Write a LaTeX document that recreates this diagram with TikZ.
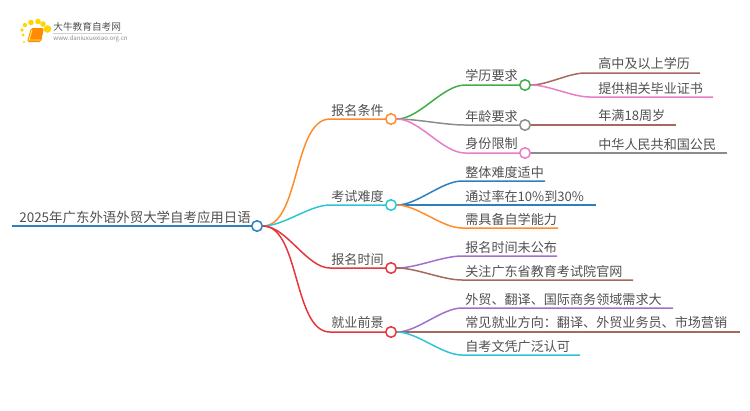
\documentclass[tikz,border=0pt]{standalone}
\usepackage{fontspec}
\usetikzlibrary{backgrounds}
\setmainfont{Noto Sans CJK SC}
\definecolor{txtgrey}{HTML}{505050}
\definecolor{rootblue}{HTML}{2F7FBD}
\definecolor{lorange}{HTML}{FF8C2A}
\definecolor{lcyan}{HTML}{2CC5D8}
\definecolor{lred}{HTML}{E4363C}
\definecolor{lgreen}{HTML}{3FAE49}
\definecolor{lgrey}{HTML}{8C8C8C}
\definecolor{lpink}{HTML}{EA7CC8}
\definecolor{lbrown}{HTML}{A5695E}
\definecolor{lpurple}{HTML}{A070D0}
\tikzset {
    label text/.style = {anchor = west, inner sep = 0pt, text = txtgrey, font = \fontsize{7.45pt}{9pt}\selectfont},
    root text/.style = {label text, font = \fontsize{7.65pt}{9pt}\selectfont},
    dot/.style = {circle, draw = #1, fill = white, line width = 0.85pt, minimum size = 6pt, inner sep = 0pt},
    branch/.style = {draw = #1, line width = 0.85pt},
    curve/.style = {out = 0, in = 180, looseness = 0.75}
}
\begin{document}
\begin{tikzpicture}[x = 0.02cm, y = -0.02cm]
    \useasboundingbox (0, 0) rectangle (750, 410);
    % logo
    \foreach \px/\py/\ps in {23/35/1.6, 22/30/1.8, 25/25/2.2, 31/22.5/2.8, 38/21.5/2.8, 43/24/2.8, 47.5/29/3.8, 24/42/1.2} {
        \fill [yellow!75!orange] (\px, \py) circle (\ps);
    }
    \fill [orange!90!yellow, rounded corners = 1pt] (31, 28) -- (44, 28) -- (41, 42) -- (27, 42) -- cycle;
    \draw [yellow!60!white, line width = 0.5pt] (32, 30) -- (29, 40) -- (40, 40);
    \node (logoname) [anchor = west, inner sep = 0pt, text = txtgrey, font = \fontsize{5.5pt}{6pt}\selectfont] at (53, 27) {大牛教育自考网};
    \node (logourl) [anchor = west, inner sep = 0pt, text = lgrey, font = \fontsize{3.5pt}{5pt}\selectfont] at (53, 38.5) {www.daniuxuexiao.org.cn};
    \draw [lgrey!40, line width = 0.3pt] (53, 33) -- (122, 33);
    % circles
    \node (root) [dot = rootblue] at (257, 226) {};
    \node (exam) [dot = lcyan] at (391, 205) {};
    \node (cond) [dot = lorange] at (391, 119) {};
    \node (time) [dot = lred] at (391, 268) {};
    \node (job) [dot = lred] at (391, 332) {};
    \node (edu) [dot = lgreen] at (525, 85) {};
    \node (age) [dot = lgrey] at (525, 125) {};
    \node (idc) [dot = lpink] at (525, 153) {};
    % free ends
    \coordinate (start) at (12, 226);
    \coordinate (condk) at (330, 119);
    \coordinate (examk) at (330, 205);
    \coordinate (timek) at (330, 268);
    \coordinate (jobk) at (330, 332);
    \coordinate (eduk) at (465, 85);
    \coordinate (agek) at (465, 125);
    \coordinate (idck) at (465, 153);
    \coordinate (edua) at (585, 73);
    \coordinate (eduae) at (700, 73);
    \coordinate (edub) at (590, 97);
    \coordinate (edube) at (713, 97);
    \coordinate (agee) at (676, 125);
    \coordinate (idce) at (727, 153);
    \coordinate (exa) at (462, 181);
    \coordinate (exae) at (545, 181);
    \coordinate (exbe) at (596, 205);
    \coordinate (exc) at (462, 228);
    \coordinate (exce) at (558, 228);
    \coordinate (tia) at (462, 256);
    \coordinate (tiae) at (557, 256);
    \coordinate (tib) at (462, 280);
    \coordinate (tibe) at (633, 280);
    \coordinate (joa) at (462, 308);
    \coordinate (joae) at (673, 308);
    \coordinate (jobe) at (740, 332);
    \coordinate (joc) at (462, 355);
    \coordinate (joce) at (580, 355);
    % lines
    \begin{scope}[on background layer]
        \draw [branch = rootblue] (start) -- (root);
        \draw [branch = lorange] (root) to [curve] (condk) -- (cond);
        \draw [branch = lcyan] (root) to [curve] (examk) -- (exam);
        \draw [branch = lred] (root) to [curve] (timek) -- (time);
        \draw [branch = lred] (root) to [curve] (jobk) -- (job);
        \draw [branch = lgreen] (cond) to [curve] (eduk) -- (edu);
        \draw [branch = lgrey] (cond) to [curve] (agek) -- (age);
        \draw [branch = lpink] (cond) to [curve] (idck) -- (idc);
        \draw [branch = lbrown] (edu) to [curve] (edua) -- (eduae);
        \draw [branch = lpink] (edu) to [curve] (edub) -- (edube);
        \draw [branch = lbrown] (age) -- (agee);
        \draw [branch = lgrey] (idc) -- (idce);
        \draw [branch = rootblue] (exam) to [curve] (exa) -- (exae);
        \draw [branch = rootblue] (exam) -- (exbe);
        \draw [branch = lorange] (exam) to [curve] (exc) -- (exce);
        \draw [branch = lpurple] (time) to [curve] (tia) -- (tiae);
        \draw [branch = lbrown] (time) to [curve] (tib) -- (tibe);
        \draw [branch = lpurple] (job) to [curve] (joa) -- (joae);
        \draw [branch = lbrown] (job) -- (jobe);
        \draw [branch = lcyan] (job) to [curve] (joc) -- (joce);
    \end{scope}
    % texts
    \node (troot) [root text] at (19, 217) {2025年广东外语外贸大学自考应用日语};
    \node (tcond) [label text] at (331, 110.5) {报名条件};
    \node (texam) [label text] at (331, 196.5) {考试难度};
    \node (ttime) [label text] at (331, 259.5) {报名时间};
    \node (tjob) [label text] at (331, 322.5) {就业前景};
    \node (tedu) [label text] at (465, 75.5) {学历要求};
    \node (tage) [label text] at (465, 116.5) {年龄要求};
    \node (tidc) [label text] at (465, 143.5) {身份限制};
    \node (tedua) [label text] at (598, 63.5) {高中及以上学历};
    \node (tedub) [label text] at (598, 88.5) {提供相关毕业证书};
    \node (tagea) [label text] at (598, 115.5) {年满18周岁};
    \node (tidca) [label text] at (598, 144.5) {中华人民共和国公民};
    \node (texa) [label text] at (465, 172.5) {整体难度适中};
    \node (texb) [label text] at (465, 196.5) {通过率在10\%到30\%};
    \node (texc) [label text] at (465, 219.5) {需具备自学能力};
    \node (ttia) [label text] at (465, 247.5) {报名时间未公布};
    \node (ttib) [label text] at (465, 271.5) {关注广东省教育考试院官网};
    \node (tjoa) [label text] at (465, 299.5) {外贸、翻译、国际商务领域需求大};
    \node (tjob2) [label text] at (465, 322.5) {常见就业方向：翻译、外贸业务员、市场营销};
    \node (tjoc) [label text] at (465, 346.5) {自考文凭广泛认可};
\end{tikzpicture}
\end{document}
